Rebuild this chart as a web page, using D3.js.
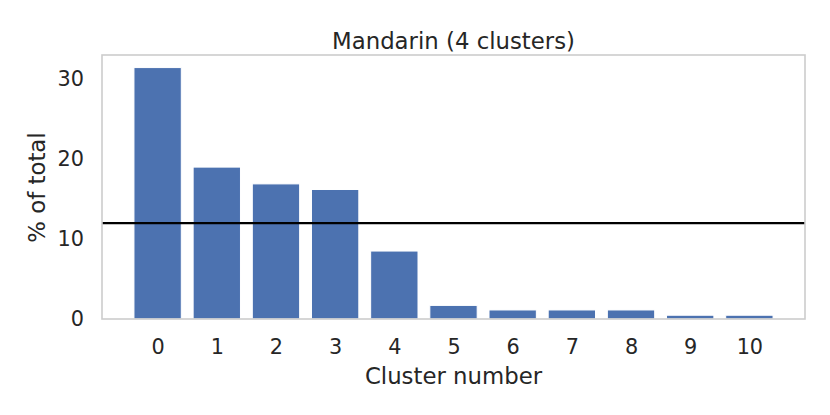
<!DOCTYPE html>
<html><head><meta charset="utf-8">
<script src="https://cdn.jsdelivr.net/npm/d3@7"></script>
<style>body{margin:0;background:#fff}svg{display:block}text{font-family:"DejaVu Sans",sans-serif;fill:#262626}</style>
</head><body>
<svg id="c" width="830" height="415"></svg>
<script>
const categories = [0,1,2,3,4,5,6,7,8,9,10];
const values = [31.45,19.0,16.9,16.2,8.5,1.7,1.13,1.13,1.13,0.47,0.47];
const refLine = 12.0;
const yTicks = [0,10,20,30];
const title = "Mandarin (4 clusters)";
const xLabel = "Cluster number";
const yLabel = "% of total";

const svg = d3.select("#c");
const m = {l:102, r:805, t:55, b:319};
const x = d3.scaleLinear().domain([-0.94, 10.94]).range([m.l, m.r]);
const y = d3.scaleLinear().domain([0, d3.max(values)*1.05]).range([m.b, m.t]);

svg.append("g").selectAll("rect").data(values).join("rect")
  .attr("x",(d,i)=>x(categories[i]-0.4))
  .attr("width",x(0.8)-x(0))
  .attr("y",d=>y(d))
  .attr("height",d=>y(0)-y(d))
  .attr("fill","#4c72b0")
  .attr("stroke","#fff").attr("stroke-width",1);

svg.append("line").attr("x1",m.l).attr("x2",m.r)
  .attr("y1",y(refLine)).attr("y2",y(refLine))
  .attr("stroke","#000").attr("stroke-width",2.2);

svg.append("rect").attr("x",m.l).attr("y",m.t).attr("width",m.r-m.l).attr("height",m.b-m.t)
  .attr("fill","none").attr("stroke","#cccccc").attr("stroke-width",1.6);

const xa = svg.append("g").attr("transform",`translate(0,${m.b})`)
  .call(d3.axisBottom(x).tickValues(categories).tickSize(0).tickPadding(0).tickFormat(d3.format("d")));
xa.select(".domain").remove();
xa.selectAll("text").attr("dy",null).attr("y",35).attr("font-size","20.8px").attr("fill","#262626").attr("font-family","DejaVu Sans");

const ya = svg.append("g").attr("transform",`translate(${m.l},0)`)
  .call(d3.axisLeft(y).tickValues(yTicks).tickSize(0).tickPadding(18).tickFormat(d3.format("d")));
ya.select(".domain").remove();
ya.selectAll("text").attr("font-size","20.8px").attr("fill","#262626").attr("font-family","DejaVu Sans");

svg.append("text").attr("x",(m.l+m.r)/2).attr("y",49).attr("text-anchor","middle")
  .attr("font-size","22.8px").text(title);
svg.append("text").attr("x",(m.l+m.r)/2).attr("y",384).attr("text-anchor","middle")
  .attr("font-size","22.8px").text(xLabel);
svg.append("text").attr("transform","translate(45,187.5) rotate(-90)").attr("text-anchor","middle")
  .attr("font-size","22.8px").text(yLabel);
</script>
</body></html>
